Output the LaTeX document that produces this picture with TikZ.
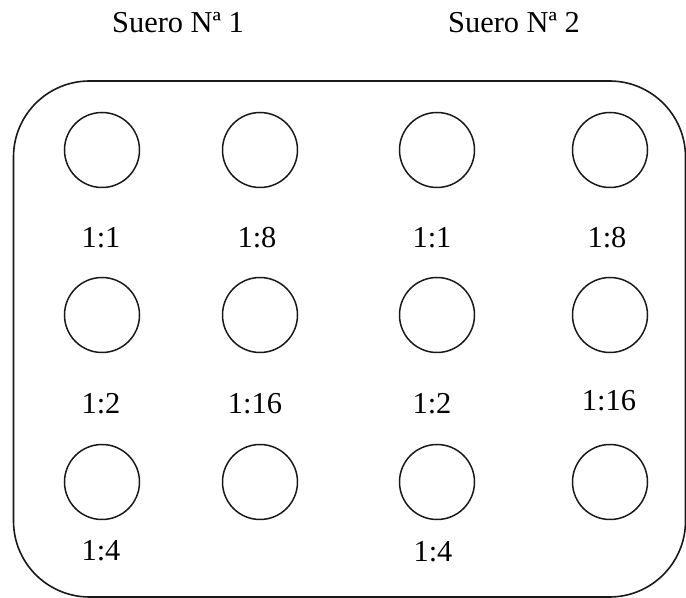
\documentclass[tikz,border=0pt]{standalone}
\usepackage{fontspec}
\setmainfont{Liberation Serif}
\usepackage{tikz}

\begin{document}
\begin{tikzpicture}[x=0.5pt,y=-0.5pt,font=\fontsize{15.2}{18}\selectfont,
  well/.style={circle,draw=black!90,line width=0.75pt,minimum size=37.5pt,inner sep=0pt}]
\useasboundingbox (0,0) rectangle (686,598);
\node[draw=black!90,line width=0.8pt,rounded corners=38pt,minimum width=336pt,minimum height=258pt,inner sep=0pt] (plate) at (349.5,339) {};
\node (suero1) at (178,23) {Suero Nª 1};
\node (suero2) at (514,23) {Suero Nª 2};
% first row
\node[well] (w11) at (102,150) {};
\node[well] (w12) at (260,150) {};
\node[well] (w13) at (437,150) {};
\node[well] (w14) at (610,150) {};
\node (d11) at (101,238) {1:1};
\node (d12) at (257,238) {1:8};
\node (d13) at (432,238) {1:1};
\node (d14) at (607,238) {1:8};
% second row
\node[well] (w21) at (102,315) {};
\node[well] (w22) at (260,315) {};
\node[well] (w23) at (437,315) {};
\node[well] (w24) at (610,315) {};
\node (d21) at (101,404) {1:2};
\node (d22) at (255,404) {1:16};
\node (d23) at (432,404) {1:2};
\node (d24) at (609,401) {1:16};
% third row
\node[well] (w31) at (102,482) {};
\node[well] (w32) at (260,482) {};
\node[well] (w33) at (437,482) {};
\node[well] (w34) at (610,482) {};
\node (d31) at (101,551) {1:4};
\node (d33) at (433,552) {1:4};
\end{tikzpicture}
\end{document}
